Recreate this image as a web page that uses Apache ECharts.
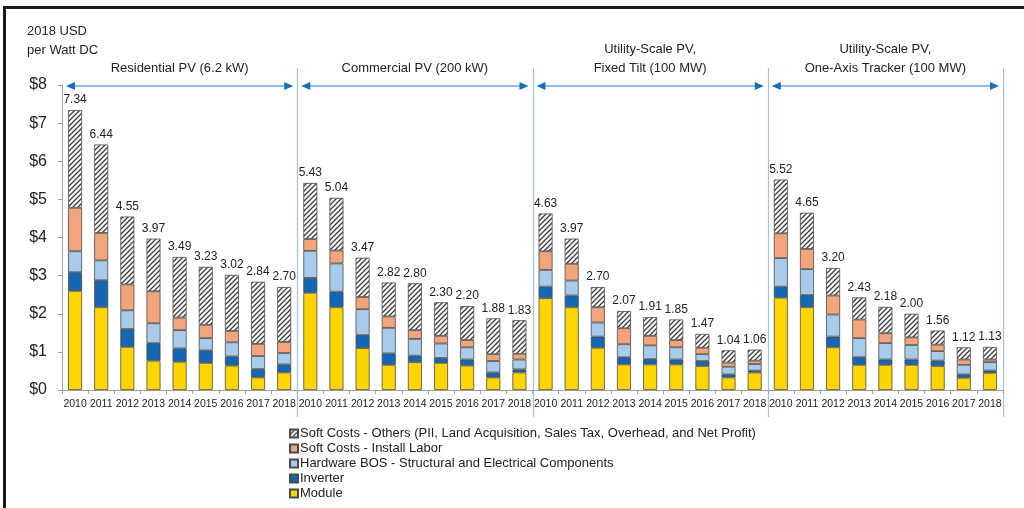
<!DOCTYPE html>
<html>
<head>
<meta charset="utf-8">
<script src="https://cdn.jsdelivr.net/npm/echarts@6/dist/echarts.min.js"></script>
<style>
  html, body { margin: 0; padding: 0; background: #fff; }
  #chart { width: 1024px; height: 508px; }
</style>
</head>
<body>
<div id="chart"></div>
<script>
// Installed PV system cost benchmarks, 2018 USD per Watt DC
const years = ['2010', '2011', '2012', '2013', '2014', '2015', '2016', '2017', '2018'];
const segments = [
  'Residential PV (6.2 kW)',
  'Commercial PV (200 kW)',
  'Utility-Scale PV,\nFixed Tilt (100 MW)',
  'Utility-Scale PV,\nOne-Axis Tracker (100 MW)'
];
const yTickValues = [0, 1, 2, 3, 4, 5, 6, 7, 8];

// Totals per bar (residential, commercial, utility fixed tilt, utility tracker)
const totals = [
  7.34, 6.44, 4.55, 3.97, 3.49, 3.23, 3.02, 2.84, 2.70,
  5.43, 5.04, 3.47, 2.82, 2.80, 2.30, 2.20, 1.88, 1.83,
  4.63, 3.97, 2.70, 2.07, 1.91, 1.85, 1.47, 1.04, 1.06,
  5.52, 4.65, 3.20, 2.43, 2.18, 2.00, 1.56, 1.12, 1.13
];
const moduleCost = [
  2.60, 2.17, 1.13, 0.77, 0.74, 0.71, 0.64, 0.33, 0.46,
  2.55, 2.17, 1.10, 0.66, 0.73, 0.71, 0.64, 0.33, 0.46,
  2.41, 2.17, 1.11, 0.67, 0.67, 0.67, 0.63, 0.33, 0.46,
  2.42, 2.17, 1.12, 0.66, 0.66, 0.66, 0.63, 0.32, 0.45
];
const inverterCost = [
  0.49, 0.71, 0.47, 0.46, 0.35, 0.33, 0.24, 0.22, 0.21,
  0.39, 0.41, 0.34, 0.30, 0.17, 0.13, 0.16, 0.13, 0.08,
  0.30, 0.31, 0.29, 0.19, 0.14, 0.13, 0.13, 0.08, 0.05,
  0.29, 0.32, 0.28, 0.20, 0.14, 0.14, 0.14, 0.09, 0.06
];
const bosCost = [
  0.55, 0.52, 0.49, 0.52, 0.48, 0.32, 0.37, 0.34, 0.30,
  0.71, 0.74, 0.68, 0.67, 0.44, 0.38, 0.32, 0.30, 0.26,
  0.44, 0.39, 0.37, 0.34, 0.36, 0.32, 0.18, 0.20, 0.17,
  0.75, 0.68, 0.58, 0.50, 0.43, 0.38, 0.25, 0.25, 0.22
];
const laborCost = [
  1.14, 0.72, 0.68, 0.84, 0.33, 0.35, 0.30, 0.32, 0.29,
  0.31, 0.34, 0.32, 0.30, 0.23, 0.20, 0.19, 0.18, 0.15,
  0.49, 0.44, 0.40, 0.42, 0.25, 0.19, 0.17, 0.11, 0.09,
  0.65, 0.53, 0.50, 0.49, 0.26, 0.20, 0.17, 0.14, 0.07
];
// Remaining soft costs make up the rest of each total
const otherCost = totals.map((t, i) =>
  +(t - moduleCost[i] - inverterCost[i] - bosCost[i] - laborCost[i]).toFixed(2));

const seriesNames = [
  'Soft Costs - Others (PII, Land Acquisition, Sales Tax, Overhead, and Net Profit)',
  'Soft Costs - Install Labor',
  'Hardware BOS - Structural and Electrical Components',
  'Inverter',
  'Module'
];

const categories = [];
segments.forEach((s, g) => years.forEach(y => categories.push(g + '-' + y)));

// diagonal hatch tile for the "others" soft-cost block
function hatchTile() {
  const s = 5;
  const c = document.createElement('canvas');
  c.width = s; c.height = s;
  const ctx = c.getContext('2d');
  ctx.fillStyle = '#ffffff';
  ctx.fillRect(0, 0, s, s);
  ctx.strokeStyle = '#3a3a3a';
  ctx.lineWidth = 1.3;
  ctx.beginPath();
  ctx.moveTo(0, s); ctx.lineTo(s, 0);
  ctx.moveTo(-1, 1); ctx.lineTo(1, -1);
  ctx.moveTo(s - 1, s + 1); ctx.lineTo(s + 1, s - 1);
  ctx.stroke();
  return c;
}

const FONT = "'Liberation Sans', Arial, sans-serif";
const chart = echarts.init(document.getElementById('chart'), null, { renderer: 'canvas' });

const border = { borderColor: '#4a4a4a', borderWidth: 0.8 };
function barSeries(name, data, color, extra) {
  return Object.assign({
    name: name,
    type: 'bar',
    stack: 'cost',
    barWidth: 14,
    data: data,
    itemStyle: Object.assign({ color: color }, border),
    emphasis: { disabled: true }
  }, extra || {});
}

chart.setOption({
  animation: false,
  textStyle: { fontFamily: FONT },
  grid: { left: 62, right: 21, top: 85, bottom: 118, containLabel: false },
  legend: {
    orient: 'vertical',
    left: 289,
    top: 426,
    height: 82,
    padding: 0,
    itemWidth: 8,
    itemHeight: 8,
    itemGap: 0,
    icon: 'rect',
    selectedMode: false,
    data: seriesNames,
    textStyle: { fontSize: 13, lineHeight: 15, color: '#222', padding: [0, 0, 0, -3] }
  },
  xAxis: {
    type: 'category',
    data: categories,
    axisLine: { lineStyle: { color: '#a0a0a0' } },
    axisTick: { show: true, length: 4, lineStyle: { color: '#a0a0a0' } },
    axisLabel: {
      interval: 0,
      fontSize: 10.5,
      margin: 9,
      color: '#222',
      fontFamily: "'Liberation Sans Narrow', 'Arial Narrow', " + FONT,
      formatter: (v, i) => years[i % years.length]
    }
  },
  yAxis: {
    type: 'value',
    min: yTickValues[0],
    max: yTickValues[yTickValues.length - 1],
    interval: 1,
    axisLine: { show: true, lineStyle: { color: '#a0a0a0' } },
    axisTick: { show: true, length: 4, lineStyle: { color: '#a0a0a0' } },
    splitLine: { show: false },
    axisLabel: { fontSize: 16, color: '#222', margin: 15, formatter: v => '$' + v }
  },
  series: [
    barSeries(seriesNames[4], moduleCost, '#FFD500'),
    barSeries(seriesNames[3], inverterCost, '#1467B3'),
    barSeries(seriesNames[2], bosCost, '#A8CBEB'),
    barSeries(seriesNames[1], laborCost, '#F2A47C'),
    barSeries(seriesNames[0], otherCost, { image: hatchTile(), repeat: 'repeat' }, {
      label: {
        show: true,
        position: 'top',
        distance: 4,
        fontSize: 12,
        color: '#222',
        formatter: p => totals[p.dataIndex].toFixed(2)
      }
    })
  ]
});

// Segment dividers, span arrows and segment titles, placed from the axis scales
function drawOverlay() {
  const c0 = chart.convertToPixel({ xAxisIndex: 0 }, 0);
  const c1 = chart.convertToPixel({ xAxisIndex: 0 }, 1);
  const step = c1 - c0;
  const yTop = chart.convertToPixel({ yAxisIndex: 0 }, yTickValues[yTickValues.length - 1]);
  const yBase = chart.convertToPixel({ yAxisIndex: 0 }, 0);
  const g = [];

  // frame
  g.push({ type: 'rect', shape: { x: 3, y: 6, width: 1021, height: 3 }, style: { fill: '#1a1a1a' } });
  g.push({ type: 'rect', shape: { x: 3, y: 6, width: 3, height: 502 }, style: { fill: '#1a1a1a' } });

  // axis unit
  g.push({
    type: 'text', left: 27, top: 22,
    style: { text: '2018 USD\nper Watt DC', font: '13px ' + FONT, fill: '#222', lineHeight: 19 }
  });

  const arrowLine = '#6fa6d8';
  const arrowHead = '#1b6fb8';
  segments.forEach((name, s) => {
    const xL = c0 - step / 2 + s * years.length * step;
    const xR = xL + years.length * step;
    const ay = yTop + 1;
    // divider at right edge of each segment
    g.push({
      type: 'line', silent: true,
      shape: { x1: Math.round(xR) + 0.5, y1: ay - 18, x2: Math.round(xR) + 0.5, y2: yBase + 27 },
      style: { stroke: '#9fc4e6', lineWidth: 1.2 }
    });
    // double-headed span arrow
    const a1 = xL + 4, a2 = xR - 4;
    g.push({ type: 'line', shape: { x1: a1 + 6, y1: ay, x2: a2 - 6, y2: ay }, style: { stroke: arrowLine, lineWidth: 1.5 } });
    g.push({ type: 'polygon', shape: { points: [[a1, ay], [a1 + 9, ay - 4], [a1 + 9, ay + 4]] }, style: { fill: arrowHead } });
    g.push({ type: 'polygon', shape: { points: [[a2, ay], [a2 - 9, ay - 4], [a2 - 9, ay + 4]] }, style: { fill: arrowHead } });
    // title
    g.push({
      type: 'text',
      x: (xL + xR) / 2, y: ay - 8,
      style: {
        text: name, font: '13px ' + FONT, fill: '#222',
        align: 'center', verticalAlign: 'bottom', lineHeight: 19
      }
    });
  });
  chart.setOption({ graphic: g });
}
drawOverlay();
</script>
</body>
</html>
